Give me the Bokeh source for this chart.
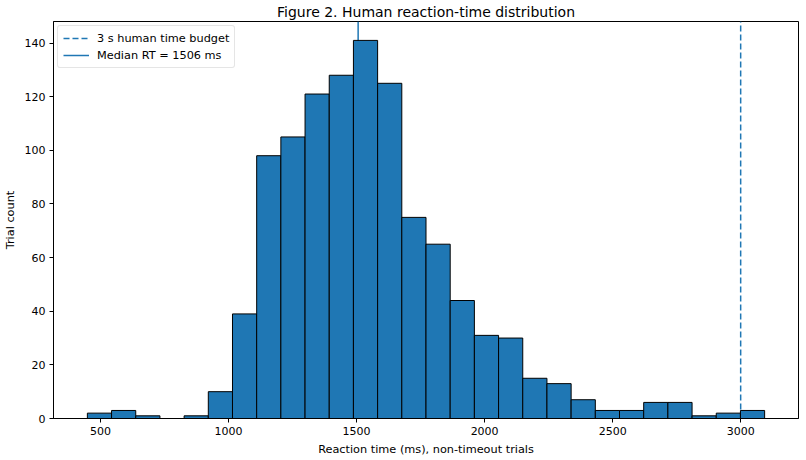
import numpy as np
from bokeh.plotting import figure
from bokeh.models import Range1d, FixedTicker, Legend, LegendItem
from bokeh.embed import file_html
from bokeh.resources import INLINE

# Data
counts = [2, 3, 1, 0, 1, 10, 39, 98, 105, 121, 128, 141, 125, 75, 65, 44,
          31, 30, 15, 13, 7, 3, 3, 6, 6, 1, 2, 3]
rt_min = 448.5
rt_max = 3093.6
budget_ms = 3000
median_ms = 1506
x_ticks = [500, 1000, 1500, 2000, 2500, 3000]
y_ticks = [0, 20, 40, 60, 80, 100, 120, 140]

edges = np.linspace(rt_min, rt_max, len(counts) + 1)
left = edges[:-1]
right = edges[1:]

span = rt_max - rt_min
x0, x1 = rt_min - 0.05 * span, rt_max + 0.05 * span
ymax = max(counts) * 1.05

FONT = "DejaVu Sans"
BLUE = "#1f77b4"

p = figure(width=806, height=460, output_backend="svg", toolbar_location=None,
           x_range=Range1d(x0, x1), y_range=Range1d(0, ymax),
           title="Figure 2. Human reaction-time distribution",
           min_border_left=52, min_border_right=8, min_border_top=0, min_border_bottom=42)

p.title.align = "center"
p.title.text_font = FONT
p.title.text_font_size = "14px"
p.title.text_font_style = "normal"
p.title.text_color = "black"
p.title.standoff = 3
p.title.offset = 0

r_budget = p.line(x=[budget_ms, budget_ms], y=[0, ymax], line_color=BLUE,
                  line_width=1.5, line_dash="6 3")
r_median = p.line(x=[median_ms, median_ms], y=[0, ymax], line_color=BLUE,
                  line_width=1.5)

p.quad(left=left, right=right, bottom=0, top=counts, fill_color=BLUE,
       line_color="black", line_width=1)

p.xgrid.visible = False
p.ygrid.visible = False
p.outline_line_color = "black"
p.outline_line_width = 1

for ax in (p.xaxis[0], p.yaxis[0]):
    ax.major_tick_in = 0
    ax.major_tick_out = 4
    ax.minor_tick_line_color = None
    ax.axis_line_color = "black"
    ax.major_label_text_font = FONT
    ax.major_label_text_font_size = "11px"
    ax.major_label_text_color = "black"
    ax.axis_label_text_font = FONT
    ax.axis_label_text_font_size = "11.3px"
    ax.axis_label_text_font_style = "normal"
    ax.axis_label_text_color = "black"
    ax.major_label_standoff = 4
    ax.axis_label_standoff = 5

p.xaxis.ticker = FixedTicker(ticks=x_ticks)
p.yaxis.ticker = FixedTicker(ticks=y_ticks)
p.xaxis.axis_label = "Reaction time (ms), non-timeout trials"
p.yaxis.axis_label = "Trial count"

legend = Legend(items=[
    LegendItem(label="3 s human time budget", renderers=[r_budget]),
    LegendItem(label="Median RT = %d ms" % median_ms, renderers=[r_median]),
], location="top_left")
legend.label_text_font = FONT
legend.label_text_font_size = "11.3px"
legend.label_text_color = "black"
legend.border_line_color = "#cccccc"
legend.border_line_width = 1
legend.background_fill_alpha = 0.8
legend.glyph_width = 26
legend.glyph_height = 14
legend.label_height = 14
legend.spacing = 3
legend.padding = 5
legend.margin = 4
legend.label_standoff = 8
try:
    legend.border_radius = 3
except Exception:
    pass
p.add_layout(legend)

open("out.html", "w").write(file_html(p, INLINE))
